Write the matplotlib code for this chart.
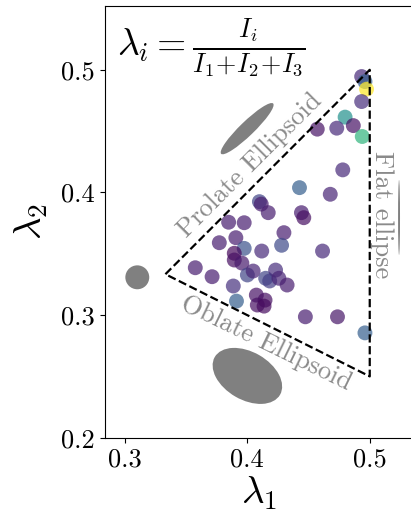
import matplotlib
matplotlib.use('Agg')
import matplotlib.pyplot as plt
from matplotlib.patches import Ellipse

plt.rcParams['font.family'] = ['cmr10', 'DejaVu Serif']
plt.rcParams['mathtext.fontset'] = 'cm'
plt.rcParams['axes.formatter.use_mathtext'] = True

# ---- data ----
lam1 = [0.4934, 0.4961, 0.4974, 0.4934, 0.4799, 0.4572, 0.4731, 0.4866, 0.4939,
        0.4780, 0.4427, 0.4678, 0.4100, 0.4115, 0.4172, 0.3849, 0.3976, 0.4443,
        0.4462, 0.4300, 0.3773, 0.3908, 0.3976, 0.4119, 0.4281, 0.4615, 0.3895,
        0.3895, 0.3957, 0.3577, 0.3714, 0.4002, 0.4049, 0.3887, 0.3913, 0.4075,
        0.4146, 0.4083, 0.4138, 0.4151, 0.4184, 0.4232, 0.4259, 0.4326, 0.4475,
        0.4737, 0.4961]
lam2 = [0.4945, 0.4904, 0.4842, 0.4741, 0.4614, 0.4516, 0.4524, 0.4545, 0.4456,
        0.4184, 0.4039, 0.3985, 0.3925, 0.3905, 0.3835, 0.3757, 0.3753, 0.3835,
        0.3794, 0.3672, 0.3590, 0.3631, 0.3544, 0.3522, 0.3569, 0.3522, 0.3504,
        0.3449, 0.3424, 0.3386, 0.3313, 0.3327, 0.3359, 0.3237, 0.3114, 0.3163,
        0.3122, 0.3082, 0.3073, 0.3300, 0.3278, 0.3367, 0.3300, 0.3245, 0.2986,
        0.2986, 0.2855]
shade = [0.12, 0.30, 1.00, 0.13, 0.50, 0.05, 0.12, 0.05, 0.65,
         0.12, 0.30, 0.10, 0.20, 0.08, 0.08, 0.08, 0.08, 0.08,
         0.04, 0.08, 0.08, 0.08, 0.25, 0.12, 0.22, 0.12, 0.02,
         0.04, 0.07, 0.08, 0.08, 0.20, 0.10, 0.14, 0.30, 0.05,
         0.04, 0.04, 0.03, 0.20, 0.18, 0.13, 0.10, 0.08, 0.08,
         0.06, 0.30]

tri_x = [1/3, 0.5, 0.5, 1/3]
tri_y = [1/3, 0.5, 0.25, 1/3]

x_ticks = [0.3, 0.4, 0.5]
y_ticks = [0.2, 0.3, 0.4, 0.5]

fig = plt.figure(figsize=(4.11, 5.14), dpi=100)
ax = fig.add_axes([0.2547, 0.1484, 0.7508, 0.8399])

ax.scatter(lam1, lam2, c=shade, cmap='viridis', vmin=0, vmax=1, s=115,
           alpha=0.7, linewidths=0, zorder=2)
ax.plot(tri_x, tri_y, 'k--', lw=1.6, zorder=3)

# shape icons
ax.add_patch(Ellipse((0.400, 0.452), 0.059, 0.0115, angle=44, color='gray', lw=0))
ax.add_patch(Ellipse((0.3104, 0.3308), 0.0195, 0.0195, color='gray', lw=0))
ax.add_patch(Ellipse((0.4002, 0.2504), 0.0615, 0.039, angle=-30, color='gray', lw=0))
ax.add_patch(Ellipse((0.5239, 0.3796), 0.0016, 0.061, color='gray', lw=0))

lab_col = '#8a8a8a'
ax.text(0.402, 0.4224, 'Prolate Ellipsoid', rotation=45, color=lab_col,
        fontsize=19, ha='center', va='center', rotation_mode='anchor')
ax.text(0.4153, 0.2771, 'Oblate Ellipsoid', rotation=-26, color=lab_col,
        fontsize=19, ha='center', va='center', rotation_mode='anchor')
ax.text(0.5097, 0.3816, 'Flat ellipse', rotation=-90, color=lab_col,
        fontsize=19, ha='center', va='center', rotation_mode='anchor')

ax.text(0.04, 0.975, r'$\lambda_i = \frac{I_i}{I_1\!+\!I_2\!+\!I_3}$',
        transform=ax.transAxes, fontsize=27, ha='left', va='top')

ax.set_xlim(0.2838, 0.5355)
ax.set_ylim(0.2, 0.552)
ax.set_xticks(x_ticks)
ax.set_yticks(y_ticks)
ax.set_xticklabels([f'{v:.1f}' for v in x_ticks])
ax.set_yticklabels([f'{v:.1f}' for v in y_ticks])
ax.tick_params(labelsize=19, direction='out', top=False, right=False)
ax.spines['right'].set_visible(False)
ax.set_xlabel(r'$\lambda_1$', fontsize=28, labelpad=2)
ax.set_ylabel(r'$\lambda_2$', fontsize=28, labelpad=8)

fig.savefig('out.png', dpi=100)
